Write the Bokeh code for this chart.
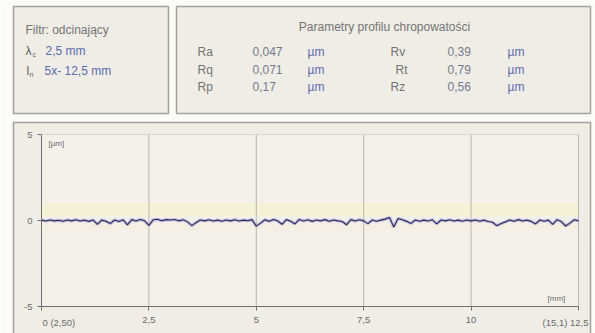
from bokeh.plotting import figure
from bokeh.layouts import column
from bokeh.models import Range1d, Label, FixedTicker
from bokeh.embed import file_html
from bokeh.resources import INLINE

# ---------------- data ----------------
filter_title = "Filtr: odcinający"
cutoff_text = "2,5 mm"
length_text = "5x- 12,5 mm"
params_title = "Parametry profilu chropowatości"
params_left_names = ["Ra", "Rq", "Rp"]
params_left_values = ["0,047", "0,071", "0,17"]
params_right_names = ["Rv", "Rt", "Rz"]
params_right_values = ["0,39", "0,79", "0,56"]
unit_um = "µm"

x_ticks = [0, 2.5, 5, 7.5, 10, 12.5]
x_tick_labels = ["0 (2,50)", "2,5", "5", "7,5", "10", "(15,1) 12,5"]
y_ticks = [-5, 0, 5]
y_tick_labels = ["-5", "0", "5"]

x_mm = [i / 10 for i in range(126)]
profile_um = [
    0.02, -0.03, 0.03, -0.02, 0.01, -0.04, 0.03, -0.02, 0.04, -0.03,
    0.02, -0.05, 0.03, -0.22, 0.02, -0.04, -0.18, 0.03, -0.06, 0.04,
    -0.25, 0.05, -0.03, 0.06, -0.02, -0.28, 0.04, 0.07, -0.02, 0.05,
    0.03, 0.06, -0.02, 0.04, -0.08, -0.30, -0.12, 0.03, -0.02, 0.04,
    -0.03, 0.02, -0.04, 0.03, -0.02, 0.04, -0.03, 0.02, -0.01, 0.05,
    -0.33, -0.15, 0.04, -0.05, 0.06, -0.03, -0.22, 0.05, -0.04, -0.20,
    0.06, -0.03, 0.04, -0.05, 0.03, -0.02, 0.05, -0.04, 0.03, -0.02,
    -0.06, -0.25, 0.05, -0.03, 0.04, -0.02, -0.18, 0.03, -0.04, 0.02,
    0.08, 0.17, -0.38, 0.12, 0.04, -0.05, -0.17, 0.03, -0.04, 0.02,
    -0.03, 0.04, -0.20, 0.03, -0.02, 0.04, -0.03, 0.02, -0.04, 0.03,
    -0.02, 0.03, -0.04, 0.02, -0.06, -0.10, -0.30, -0.18, -0.08, 0.03,
    -0.04, 0.05, -0.03, 0.02, -0.05, -0.20, 0.03, -0.04, 0.02, -0.22,
    0.05, -0.06, -0.32, -0.15, 0.04, -0.02,
]

# ---------------- styles ----------------
FONT = "Liberation Sans"
PAGE = "#fbfbf8"
PANEL_FILL = "#efede5"
PLOT_FILL = "#f2f0e9"
PANEL_LINE = "#a3a29b"
LABEL_COL = "#747474"
VALUE_COL = "#737a8e"
UNIT_COL = "#5b6bb0"
TICK_COL = "#6a6a6a"
AXIS_COL = "#707070"

T_H = 118           # height of the info strip
W = 595
H = 333

# ---------------- top strip: info panels ----------------
top = figure(width=W, height=T_H, x_range=Range1d(0, W), y_range=Range1d(T_H, 0),
             output_backend="svg", toolbar_location=None,
             x_axis_type=None, y_axis_type=None, min_border=0)
top.outline_line_color = None
top.border_fill_color = PAGE
top.background_fill_color = PAGE
top.xgrid.visible = False
top.ygrid.visible = False


def panel(f, l, r, t, b):
    f.quad(left=l, right=r, top=t, bottom=b, fill_color=PANEL_FILL,
           line_color=PANEL_LINE, line_width=1.5)


panel(top, 13, 168, 6, 113)
panel(top, 176, 590, 6, 113)


def lab(f, x, y, text, color=LABEL_COL, size="12px", align="left"):
    f.add_layout(Label(x=x, y=y, text=text, text_font=FONT,
                       text_font_size=size, text_color=color,
                       text_align=align, text_baseline="middle"))


lab(top, 25, 29, filter_title)
lab(top, 25, 50, "λ", color="#5a5a5a")
lab(top, 32, 54, "c", color="#5a5a5a", size="7px")
lab(top, 45, 50, cutoff_text, color=UNIT_COL)
lab(top, 26, 70, "l", color="#5a5a5a")
lab(top, 29, 74, "n", color="#5a5a5a", size="7px")
lab(top, 44, 70, length_text, color=UNIT_COL)

lab(top, 384, 26, params_title, align="center")
rows_y = [51, 69, 86]
for i, y in enumerate(rows_y):
    lab(top, 197, y, params_left_names[i])
    lab(top, 252, y, params_left_values[i], color=VALUE_COL)
    lab(top, 307, y, unit_um, color=UNIT_COL)
    lab(top, 390 if i != 1 else 395, y, params_right_names[i])
    lab(top, 447, y, params_right_values[i], color=VALUE_COL)
    lab(top, 507, y, unit_um, color=UNIT_COL)

# ---------------- bottom: profile plot ----------------
B_H = H - T_H
# plot area in canvas pixels: x 41..578, y 134..306
PX0, PX1, PY0, PY1 = 41, 578, 134, 306
x0, x1 = x_ticks[0], x_ticks[-1]
y0, y1 = y_ticks[0], y_ticks[-1]
sx = (PX1 - PX0) / (x1 - x0)
sy = (PY1 - PY0) / (y1 - y0)


def px2x(px):
    return x0 + (px - PX0) / sx


def py2y(py):
    return y0 + (PY1 - py) / sy


p = figure(width=W, height=B_H,
           x_range=Range1d(px2x(0), px2x(W)), y_range=Range1d(py2y(H), py2y(T_H)),
           output_backend="svg", toolbar_location=None, min_border=0)
p.border_fill_color = PAGE
p.background_fill_color = PAGE
p.outline_line_color = None
p.xgrid.visible = False
p.ygrid.visible = False

# outer panel and plot area
p.quad(left=px2x(13), right=px2x(590), top=py2y(122), bottom=py2y(345),
       fill_color=PANEL_FILL, line_color=PANEL_LINE, line_width=1.5)
p.quad(left=x0, right=x1, top=y1, bottom=y0, fill_color=PLOT_FILL,
       line_color="#d8d7d0", line_width=1)
# light yellow bands around the profile
p.quad(left=x0, right=x1, top=1.05, bottom=0.25, fill_color="#f3f1d6", line_alpha=0)
p.quad(left=x0, right=x1, top=-0.25, bottom=-0.5, fill_color="#f3f0e2", line_alpha=0)

# vertical grid lines at the tick positions
grid_x = x_ticks[1:]
p.segment(x0=grid_x, y0=[y0] * len(grid_x), x1=grid_x, y1=[y1] * len(grid_x),
          line_color="#b9b8b0", line_width=1)

for ax in (p.xaxis[0], p.yaxis[0]):
    ax.axis_line_color = AXIS_COL
    ax.axis_line_width = 1
    ax.major_tick_line_color = AXIS_COL
    ax.major_tick_in = 0
    ax.major_tick_out = 4
    ax.minor_tick_line_color = None
    ax.major_label_text_font = FONT
    ax.major_label_text_font_size = "9.5px"
    ax.major_label_text_color = TICK_COL

p.xaxis.fixed_location = y0
p.xaxis.bounds = (x0, x1)
p.xaxis.ticker = FixedTicker(ticks=x_ticks)
over = {t: l for t, l in zip(x_ticks, x_tick_labels)}
over[x_ticks[0]] = ""
over[x_ticks[-1]] = ""
p.xaxis.major_label_overrides = over
p.xaxis.major_label_standoff = 6

p.yaxis.fixed_location = x0
p.yaxis.bounds = (y0, y1)
p.yaxis.ticker = FixedTicker(ticks=y_ticks)
p.yaxis.major_label_overrides = {t: l for t, l in zip(y_ticks, y_tick_labels)}
p.yaxis.major_label_standoff = 5

# end tick labels sit inward of their ticks, as in the original
p.add_layout(Label(x=x0, y=y0, x_offset=1, y_offset=-16, text=x_tick_labels[0],
                   text_font=FONT, text_font_size="9.5px", text_color=TICK_COL,
                   text_align="left", text_baseline="middle"))
p.add_layout(Label(x=x1, y=y0, x_offset=10, y_offset=-16, text=x_tick_labels[-1],
                   text_font=FONT, text_font_size="9.5px", text_color=TICK_COL,
                   text_align="right", text_baseline="middle"))
p.add_layout(Label(x=x0, y=y1, x_offset=7, y_offset=-9, text="[µm]",
                   text_font=FONT, text_font_size="8px", text_color=TICK_COL,
                   text_baseline="middle"))
p.add_layout(Label(x=x1, y=y0, x_offset=-31, y_offset=8, text="[mm]",
                   text_font=FONT, text_font_size="8px", text_color=TICK_COL,
                   text_baseline="middle"))

p.line(x_mm, profile_um, line_color="#9a94c4", line_width=3.2, line_alpha=0.55)
p.line(x_mm, profile_um, line_color="#2a2a62", line_width=1.1)

layout = column(top, p)
open("out.html", "w").write(file_html(layout, INLINE))
